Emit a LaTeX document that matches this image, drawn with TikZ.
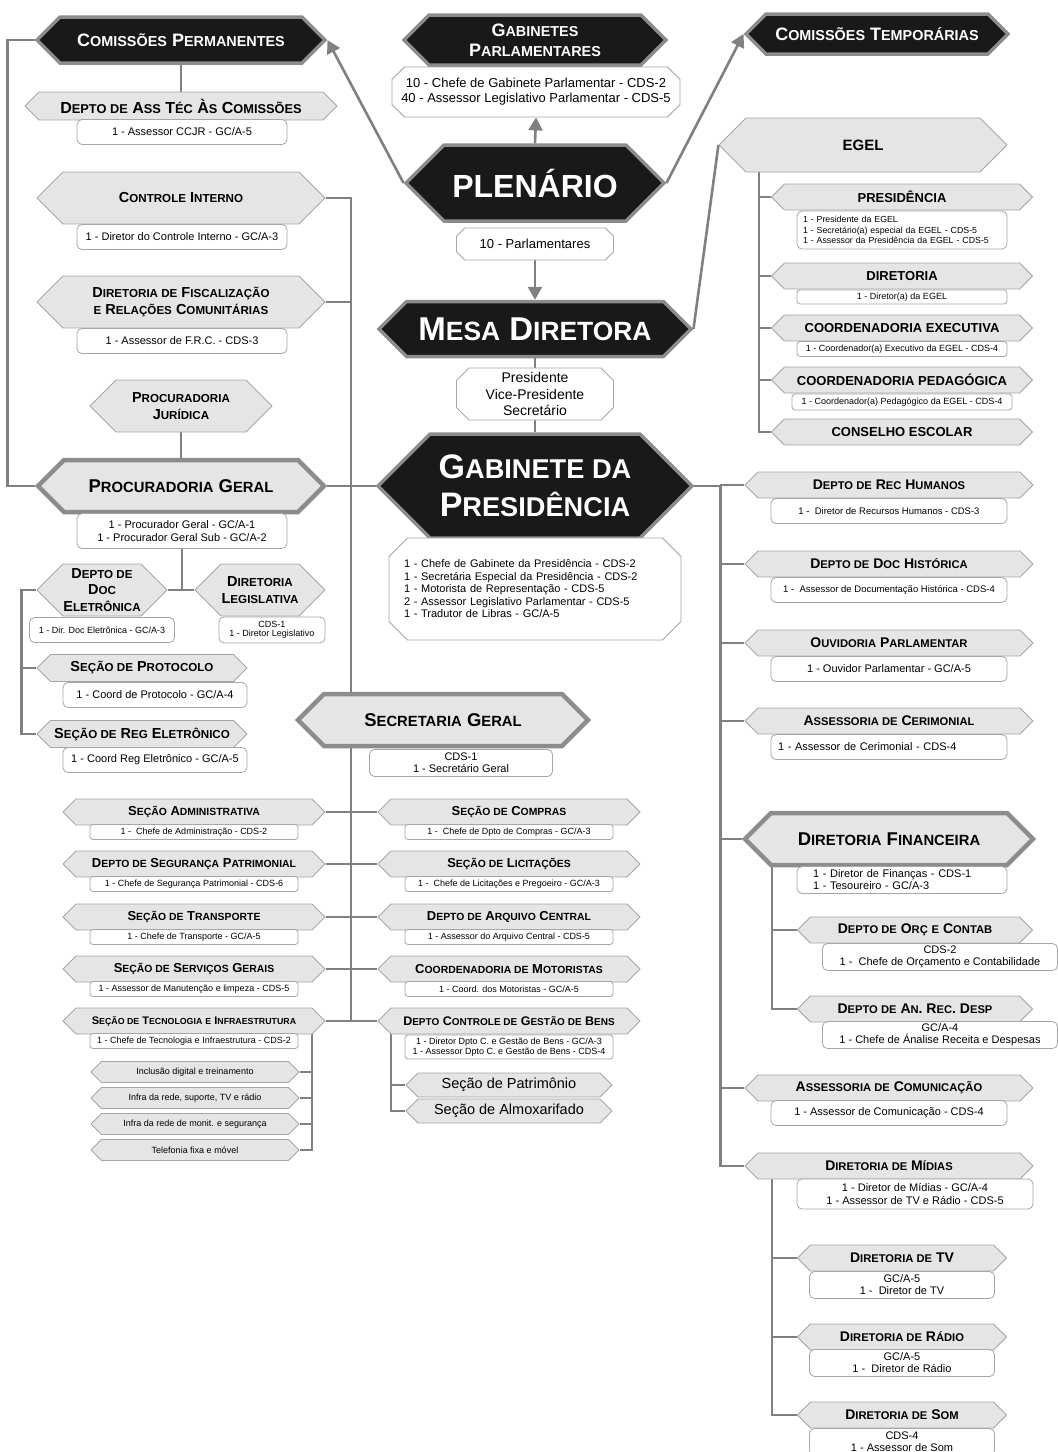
\documentclass[tikz,border=0pt]{standalone}
\usepackage{fontspec}
\setmainfont{Liberation Sans}
\usetikzlibrary{shapes.symbols,shapes.misc,arrows.meta,backgrounds}

\makeatletter
\newcommand\lowc[1]{{\fontsize{\fpeval{0.8*\f@size}}{\f@baselineskip}\selectfont #1}}
\makeatother
\newcommand\hf[1]{\fontsize{#1}{\fpeval{1.12*#1}}\selectfont\bfseries}
\newcommand\tf[2]{\fontsize{#1}{#2}\selectfont}

\tikzset{
  hex/.style={signal, signal to=east and west, signal pointer angle=90, inner sep=0pt, align=center},
  hexk/.style={hex, fill=black!90, draw=black!45, line width=3.5pt, text=white},
  hexl/.style={hex, fill=black!10, draw=black!35, line width=0.8pt},
  hexg/.style={hex, fill=black!10, draw=black!45, line width=4.5pt},
  infob/.style={rectangle, rounded corners=5pt, draw=black!35, fill=white, line width=0.8pt, inner sep=0pt, align=center},
  infoc/.style={chamfered rectangle, chamfered rectangle xsep=9pt, draw=black!35, fill=white, line width=0.8pt, inner sep=0pt, align=center},
  link/.style={draw=black!50, line width=2.6pt},
  linkto/.style={link, -{Triangle[width=14pt,length=13pt]}},
}

\begin{document}
\begin{tikzpicture}[x=1pt,y=-1pt]
\useasboundingbox (0,0) rectangle (1058,1452);
% plenario and mesa
\node[hexk, minimum width=288, minimum height=46, font=\hf{18}] (CP) at (181,40) {C\lowc{OMISSÕES} P\lowc{ERMANENTES}};
\node[hexk, minimum width=262, minimum height=50, font=\hf{18}] (GP) at (535,40) {G\lowc{ABINETES}\\P\lowc{ARLAMENTARES}};
\node[hexk, minimum width=262, minimum height=40, font=\hf{18}] (CT) at (877,34) {C\lowc{OMISSÕES} T\lowc{EMPORÁRIAS}};
\node[infoc, minimum width=288, minimum height=50, font=\tf{13}{15}] (GPi) at (536,92) {10 - Chefe de Gabinete Parlamentar - CDS-2\\40 - Assessor Legislativo Parlamentar - CDS-5};
\node[hexk, minimum width=258, minimum height=76, font=\hf{32}] (PL) at (535,183) {PLENÁRIO};
\node[infoc, minimum width=157, minimum height=32, font=\tf{13}{15}] (PLi) at (535,244) {10 - Parlamentares};
\node[hexk, minimum width=312, minimum height=55, font=\hf{33}] (MD) at (535,329) {M\lowc{ESA} D\lowc{IRETORA}};
\node[infoc, minimum width=157, minimum height=52, font=\tf{14}{16.5}] (MDi) at (535,394) {Presidente\\Vice-Presidente\\Secretário};
\node[hexk, minimum width=314, minimum height=104, font=\hf{34}] (GB) at (535,486) {G\lowc{ABINETE DA}\\P\lowc{RESIDÊNCIA}};
\node[infoc, chamfered rectangle xsep=15pt, minimum width=290, minimum height=102, text width=262, align=left, font=\tf{11}{12.5}] (GBi) at (535,589) {1 - Chefe de Gabinete da Presidência - CDS-2\\1 - Secretária Especial da Presidência - CDS-2\\1 - Motorista de Representação - CDS-5\\2 - Assessor Legislativo Parlamentar - CDS-5\\1 - Tradutor de Libras - GC/A-5};
% left column
\node[hexl, minimum width=312, minimum height=28, font=\hf{16}] (DAT) at (181,106) {D\lowc{EPTO DE} A\lowc{SS} T\lowc{ÉC} À\lowc{S} C\lowc{OMISSÕES}};
\node[infob, minimum width=210, minimum height=25, font=\tf{11}{13}] (DATi) at (182,132) {1 - Assessor CCJR - GC/A-5};
\node[hexl, minimum width=288, minimum height=52, font=\hf{14.5}] (CI) at (181,198) {C\lowc{ONTROLE} I\lowc{NTERNO}};
\node[infob, minimum width=210, minimum height=25, font=\tf{11}{13}] (CIi) at (182,237) {1 - Diretor do Controle Interno - GC/A-3};
\node[hexl, minimum width=288, minimum height=52, font=\hf{14.5}] (FRC) at (181,302) {D\lowc{IRETORIA DE} F\lowc{ISCALIZAÇÃO}\\\lowc{E} R\lowc{ELAÇÕES} C\lowc{OMUNITÁRIAS}};
\node[infob, minimum width=210, minimum height=25, font=\tf{11}{13}] (FRCi) at (182,341) {1 - Assessor de F.R.C. - CDS-3};
\node[hexl, minimum width=182, minimum height=52, font=\hf{14.5}] (PJ) at (181,406) {P\lowc{ROCURADORIA}\\J\lowc{URÍDICA}};
\node[hexg, minimum width=286, minimum height=52, font=\hf{18.5}] (PG) at (181,486) {P\lowc{ROCURADORIA} G\lowc{ERAL}};
\node[infob, minimum width=210, minimum height=35, font=\tf{11}{13}] (PGi) at (182,531) {1 - Procurador Geral - GC/A-1\\1 - Procurador Geral Sub - GC/A-2};
\node[hexl, minimum width=130, minimum height=52, font=\hf{14.5}] (DDE) at (102,590) {D\lowc{EPTO DE}\\D\lowc{OC}\\E\lowc{LETRÔNICA}};
\node[infob, minimum width=145, minimum height=25, font=\tf{9}{10}] (DDEi) at (102,630) {1 - Dir. Doc Eletrônica - GC/A-3};
\node[hexl, minimum width=130, minimum height=52, font=\hf{14.5}] (DL) at (260,590) {D\lowc{IRETORIA}\\L\lowc{EGISLATIVA}};
\node[infob, minimum width=106, minimum height=26, font=\tf{9}{9.5}] (DLi) at (272,630) {CDS-1\\1 - Diretor Legislativo};
\node[hexl, minimum width=210, minimum height=27, font=\hf{14.5}] (SP) at (142,668) {S\lowc{EÇÃO DE} P\lowc{ROTOCOLO}};
\node[infob, minimum width=184, minimum height=25, font=\tf{11}{13}] (SPi) at (155,695) {1 - Coord de Protocolo - GC/A-4};
\node[hexl, minimum width=210, minimum height=27, font=\hf{14.5}] (SRE) at (142,734) {S\lowc{EÇÃO DE} R\lowc{EG} E\lowc{LETRÔNICO}};
\node[infob, minimum width=184, minimum height=25, font=\tf{11}{13}] (SREi) at (155,760) {1 - Coord Reg Eletrônico - GC/A-5};
% secretaria geral
\node[hexg, minimum width=290, minimum height=52, font=\hf{18.5}] (SG) at (443,720) {S\lowc{ECRETARIA} G\lowc{ERAL}};
\node[infob, minimum width=183, minimum height=27, font=\tf{11}{12}] (SGi) at (461,763) {CDS-1\\1 - Secretário Geral};
\node[hexl, minimum width=262, minimum height=26, font=\hf{13}] (SAd) at (194,812) {S\lowc{EÇÃO} A\lowc{DMINISTRATIVA}};
\node[infob, rounded corners=3pt, minimum width=208, minimum height=15, font=\tf{9}{10}] (SAdi) at (194,832) {1 - \ Chefe de Administração - CDS-2};
\node[hexl, minimum width=262, minimum height=26, font=\hf{13}] (SSe) at (194,864) {D\lowc{EPTO DE} S\lowc{EGURANÇA} P\lowc{ATRIMONIAL}};
\node[infob, rounded corners=3pt, minimum width=208, minimum height=15, font=\tf{9}{10}] (SSei) at (194,884) {1 - Chefe de Segurança Patrimonial - CDS-6};
\node[hexl, minimum width=262, minimum height=26, font=\hf{13}] (STr) at (194,917) {S\lowc{EÇÃO DE} T\lowc{RANSPORTE}};
\node[infob, rounded corners=3pt, minimum width=208, minimum height=15, font=\tf{9}{10}] (STri) at (194,937) {1 - Chefe de Transporte - GC/A-5};
\node[hexl, minimum width=262, minimum height=26, font=\hf{13}] (SSG) at (194,969) {S\lowc{EÇÃO DE} S\lowc{ERVIÇOS} G\lowc{ERAIS}};
\node[infob, rounded corners=3pt, minimum width=208, minimum height=15, font=\tf{9}{10}] (SSGi) at (194,989) {1 - Assessor de Manutenção e limpeza - CDS-5};
\node[hexl, minimum width=262, minimum height=26, font=\hf{11}] (STI) at (194,1021) {S\lowc{EÇÃO DE} T\lowc{ECNOLOGIA} \lowc{E} I\lowc{NFRAESTRUTURA}};
\node[infob, rounded corners=3pt, minimum width=208, minimum height=15, font=\tf{9}{10}] (STIi) at (194,1041) {1 - Chefe de Tecnologia e Infraestrutura - CDS-2};
\node[hexl, minimum width=208, minimum height=21, font=\tf{9}{10}] (TI1) at (195,1072) {Inclusão digital e treinamento};
\node[hexl, minimum width=208, minimum height=21, font=\tf{9}{10}] (TI2) at (195,1098) {Infra da rede, suporte, TV e rádio};
\node[hexl, minimum width=208, minimum height=21, font=\tf{9}{10}] (TI3) at (195,1124) {Infra da rede de monit. e segurança};
\node[hexl, minimum width=208, minimum height=21, font=\tf{9}{10}] (TI4) at (195,1150) {Telefonia fixa e móvel};
\node[hexl, minimum width=262, minimum height=26, font=\hf{13}] (SCo) at (509,812) {S\lowc{EÇÃO DE} C\lowc{OMPRAS}};
\node[infob, rounded corners=3pt, minimum width=208, minimum height=15, font=\tf{9}{10}] (SCoi) at (509,832) {1 - \ Chefe de Dpto de Compras - GC/A-3};
\node[hexl, minimum width=262, minimum height=26, font=\hf{13}] (SLi) at (509,864) {S\lowc{EÇÃO DE} L\lowc{ICITAÇÕES}};
\node[infob, rounded corners=3pt, minimum width=208, minimum height=15, font=\tf{9}{10}] (SLii) at (509,884) {1 - \ Chefe de Licitações e Pregoeiro - GC/A-3};
\node[hexl, minimum width=262, minimum height=26, font=\hf{13}] (DAC) at (509,917) {D\lowc{EPTO DE} A\lowc{RQUIVO} C\lowc{ENTRAL}};
\node[infob, rounded corners=3pt, minimum width=208, minimum height=15, font=\tf{9}{10}] (DACi) at (509,937) {1 - Assessor do Arquivo Central - CDS-5};
\node[hexl, minimum width=262, minimum height=26, font=\hf{13}] (CMo) at (509,969) {C\lowc{OORDENADORIA DE} M\lowc{OTORISTAS}};
\node[infob, rounded corners=3pt, minimum width=208, minimum height=15, font=\tf{9}{10}] (CMoi) at (509,989) {1 - Coord. dos Motoristas - GC/A-5};
\node[hexl, minimum width=262, minimum height=26, font=\hf{12.5}] (DCB) at (509,1021) {D\lowc{EPTO} C\lowc{ONTROLE DE} G\lowc{ESTÃO DE} B\lowc{ENS}};
\node[infob, rounded corners=3pt, minimum width=208, minimum height=24, font=\tf{9}{10.5}] (DCBi) at (509,1047) {1 - Diretor Dpto C. e Gestão de Bens - GC/A-3\\1 - Assessor Dpto C. e Gestão de Bens - CDS-4};
\node[hexl, minimum width=206, minimum height=24, font=\tf{14.5}{16}] (SPa) at (509,1085) {Seção de Patrimônio};
\node[hexl, minimum width=206, minimum height=24, font=\tf{14.5}{16}] (SAl) at (509,1111) {Seção de Almoxarifado};
% egel
\node[hexl, minimum width=288, minimum height=54, font=\hf{15}] (EG) at (863,145) {EGEL};
\node[hexl, minimum width=261, minimum height=26, font=\hf{13}] (EPr) at (902,197) {PRESIDÊNCIA};
\node[infob, minimum width=210, minimum height=38, text width=198, align=left, font=\tf{8.8}{10.5}] (EPri) at (902,230) {1 - Presidente da EGEL\\1 - Secretário(a) especial da EGEL - CDS-5\\1 - Assessor da Presidência da EGEL - CDS-5};
\node[hexl, minimum width=261, minimum height=26, font=\hf{13}] (EDi) at (902,276) {DIRETORIA};
\node[infob, rounded corners=3pt, minimum width=210, minimum height=14, font=\tf{9}{10}] (EDii) at (902,297) {1 - Diretor(a) da EGEL};
\node[hexl, minimum width=261, minimum height=26, font=\hf{13}] (ECE) at (902,328) {COORDENADORIA EXECUTIVA};
\node[infob, rounded corners=3pt, minimum width=210, minimum height=15, font=\tf{9}{10}] (ECEi) at (902,349) {1 - Coordenador(a) Executivo da EGEL - CDS-4};
\node[hexl, minimum width=261, minimum height=26, font=\hf{13}] (ECP) at (902,380) {COORDENADORIA PEDAGÓGICA};
\node[infob, rounded corners=3pt, minimum width=220, minimum height=16, font=\tf{9}{10}] (ECPi) at (902,402) {1 - Coordenador(a) Pedagógico da EGEL - CDS-4};
\node[hexl, minimum width=261, minimum height=26, font=\hf{13}] (ECS) at (902,432) {CONSELHO ESCOLAR};
% right column
\node[hexl, minimum width=288, minimum height=26, font=\hf{14}] (DRH) at (889,485) {D\lowc{EPTO DE} R\lowc{EC} H\lowc{UMANOS}};
\node[infob, minimum width=236, minimum height=25, font=\tf{9.5}{11}] (DRHi) at (889,511) {1 - \ Diretor de Recursos Humanos - CDS-3};
\node[hexl, minimum width=288, minimum height=26, font=\hf{14}] (DDH) at (889,564) {D\lowc{EPTO DE} D\lowc{OC} H\lowc{ISTÓRICA}};
\node[infob, minimum width=236, minimum height=25, font=\tf{9.5}{11}] (DDHi) at (889,590) {1 - \ Assessor de Documentação Histórica - CDS-4};
\node[hexl, minimum width=288, minimum height=26, font=\hf{14}] (OP) at (889,643) {O\lowc{UVIDORIA} P\lowc{ARLAMENTAR}};
\node[infob, minimum width=236, minimum height=25, font=\tf{11}{13}] (OPi) at (889,669) {1 - Ouvidor Parlamentar - GC/A-5};
\node[hexl, minimum width=288, minimum height=26, font=\hf{14}] (AC) at (889,721) {A\lowc{SSESSORIA DE} C\lowc{ERIMONIAL}};
\node[infob, minimum width=236, minimum height=25, text width=222, align=left, font=\tf{11}{13}] (ACi) at (889,747) {1 - Assessor de Cerimonial - CDS-4};
\node[hexg, minimum width=288, minimum height=52, font=\hf{18.5}] (DF) at (889,839) {D\lowc{IRETORIA} F\lowc{INANCEIRA}};
\node[infob, minimum width=210, minimum height=27, text width=178, align=left, font=\tf{11}{12}] (DFi) at (902,880) {1 - Diretor de Finanças - CDS-1\\1 - Tesoureiro - GC/A-3};
\node[hexl, minimum width=235, minimum height=26, font=\hf{14}] (DOC) at (915,930) {D\lowc{EPTO DE} O\lowc{RÇ} \lowc{E} C\lowc{ONTAB}};
\node[infob, minimum width=235, minimum height=27, font=\tf{11}{12}] (DOCi) at (940,957) {CDS-2\\1 - \ Chefe de Orçamento e Contabilidade};
\node[hexl, minimum width=235, minimum height=26, font=\hf{14}] (DAR) at (915,1009) {D\lowc{EPTO DE} A\lowc{N}. R\lowc{EC}. D\lowc{ESP}};
\node[infob, minimum width=235, minimum height=27, font=\tf{11}{12}] (DARi) at (940,1035) {GC/A-4\\1 - Chefe de Ánalise Receita e Despesas};
\node[hexl, minimum width=288, minimum height=26, font=\hf{14}] (ACo) at (889,1088) {A\lowc{SSESSORIA DE} C\lowc{OMUNICAÇÃO}};
\node[infob, minimum width=236, minimum height=25, font=\tf{11}{13}] (ACoi) at (889,1113) {1 - Assessor de Comunicação - CDS-4};
\node[hexl, minimum width=288, minimum height=26, font=\hf{14}] (DMi) at (889,1166) {D\lowc{IRETORIA DE} M\lowc{ÍDIAS}};
\node[infob, minimum width=236, minimum height=30, font=\tf{11}{12.5}] (DMii) at (915,1194) {1 - Diretor de Mídias - GC/A-4\\1 - Assessor de TV e Rádio - CDS-5};
\node[hexl, minimum width=209, minimum height=26, font=\hf{14}] (DTV) at (902,1258) {D\lowc{IRETORIA DE} TV};
\node[infob, minimum width=185, minimum height=27, font=\tf{11}{12}] (DTVi) at (902,1285) {GC/A-5\\1 - \ Diretor de TV};
\node[hexl, minimum width=209, minimum height=26, font=\hf{14}] (DRa) at (902,1337) {D\lowc{IRETORIA DE} R\lowc{ÁDIO}};
\node[infob, minimum width=185, minimum height=27, font=\tf{11}{12}] (DRai) at (902,1363) {GC/A-5\\1 - \ Diretor de Rádio};
\node[hexl, minimum width=209, minimum height=26, font=\hf{14}] (DSo) at (902,1415) {D\lowc{IRETORIA DE} S\lowc{OM}};
\node[infob, minimum width=185, minimum height=27, font=\tf{11}{12}] (DSoi) at (902,1442) {CDS-4\\1 - Assessor de Som};
% lines
\begin{scope}[on background layer]
\fill[white] (0,0) rectangle (1058,1452);
\draw[linkto] (PL.west) -- (CP.east);
\draw[linkto] (PL.east) -- (CT.west);
\draw[linkto] (PL.north) -- (GPi.south);
\draw[linkto] (PLi.south) -- (MD.north);
\draw[link] (MD.south) -- (MDi.north);
\draw[link] (MDi.south) -- (GB.north);
\draw[link] (MD.east) -- (EG.west);
\draw[link] (CP.west) -- ++(-27,0) |- (PG.west);
\draw[link] (CP.south) -- (DAT.north);
\coordinate (busL) at (351,1021);
\draw[link] (CI.east) -| (busL);
\draw[link] (FRC.east) -- (FRC.east -| busL);
\draw[link] (PJ.south) -- (PG.north);
\draw[link] (PG.east) -- (GB.west);
\draw[link] (PGi.south) -- (PGi.south |- DDE.east);
\draw[link] (DDE.east) -- (DL.west);
\draw[link] (DDE.west) -- ++(-15,0) coordinate (busD) |- (SRE.west);
\draw[link] (SP.west) -- (SP.west -| busD);
\draw[link] (SAd.east) -- (SAd.east -| busL);
\draw[link] (SSe.east) -- (SSe.east -| busL);
\draw[link] (STr.east) -- (STr.east -| busL);
\draw[link] (SSG.east) -- (SSG.east -| busL);
\draw[link] (STI.east) -- (STI.east -| busL);
\draw[link] (SCo.west) -- (SCo.west -| busL);
\draw[link] (SLi.west) -- (SLi.west -| busL);
\draw[link] (DAC.west) -- (DAC.west -| busL);
\draw[link] (CMo.west) -- (CMo.west -| busL);
\draw[link] (DCB.west) -- (DCB.west -| busL);
\coordinate (busT) at (312,1030);
\draw[link] (busT) |- (TI4.east);
\draw[link] (TI1.east) -- (TI1.east -| busT);
\draw[link] (TI2.east) -- (TI2.east -| busT);
\draw[link] (TI3.east) -- (TI3.east -| busT);
\coordinate (busB) at (391,1034);
\draw[link] (busB) |- (SAl.west);
\draw[link] (SPa.west) -- (SPa.west -| busB);
\draw[link] (GB.east) -- ++(26,0) coordinate (busR) |- (DMi.west);
\draw[link] (DRH.west) -- (DRH.west -| busR);
\draw[link] (DDH.west) -- (DDH.west -| busR);
\draw[link] (OP.west) -- (OP.west -| busR);
\draw[link] (AC.west) -- (AC.west -| busR);
\draw[link] (DF.west) -- (DF.west -| busR);
\draw[link] (ACo.west) -- (ACo.west -| busR);
\coordinate (busF) at (772,866);
\draw[link] (busF) |- (DAR.west);
\draw[link] (DOC.west) -- (DOC.west -| busF);
\coordinate (busM) at (772,1178);
\draw[link] (busM) |- (DSo.west);
\draw[link] (DTV.west) -- (DTV.west -| busM);
\draw[link] (DRa.west) -- (DRa.west -| busM);
\coordinate (busE) at (759,172);
\draw[link] (busE) |- (ECS.west);
\draw[link] (EPr.west) -- (EPr.west -| busE);
\draw[link] (EDi.west) -- (EDi.west -| busE);
\draw[link] (ECE.west) -- (ECE.west -| busE);
\draw[link] (ECP.west) -- (ECP.west -| busE);
\end{scope}
\end{tikzpicture}
\end{document}
